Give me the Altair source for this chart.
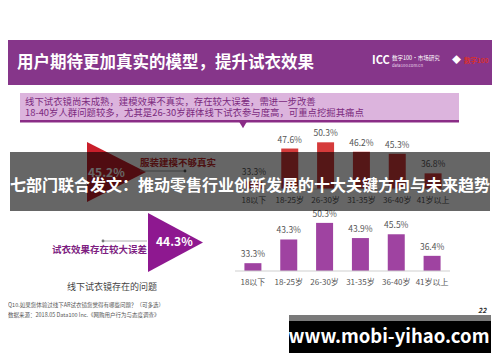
import altair as alt
import pandas as pd

# ---------------- data ----------------
ages = ["18以下", "18-25岁", "26-30岁", "31-35岁", "36-40岁", "41岁以上"]
top_vals = [33.3, 47.6, 50.3, 46.2, 45.3, 36.8]      # 服装建模不够真实
bottom_vals = [33.3, 43.3, 50.3, 43.9, 45.5, 36.4]   # 试衣效果存在较大误差
top_total = "45.2%"
bottom_total = "44.3%"

title = "用户期待更加真实的模型，提升试衣效果"
note1 = "线下试衣镜尚未成熟，建模效果不真实，存在较大误差，需进一步改善"
note2 = "18-40岁人群问题较多，尤其是26-30岁群体线下试衣参与度高，可重点挖掘其痛点"
banner = "七部门联合发文：推动零售行业创新发展的十大关键方向与未来趋势"
FONT = "Noto Sans CJK SC"

df_top = pd.DataFrame({"age": ages, "v": top_vals})
df_top["label"] = [f"{v:.1f}%" for v in top_vals]
df_bot = pd.DataFrame({"age": ages, "v": bottom_vals})
df_bot["label"] = [f"{v:.1f}%" for v in bottom_vals]
dummy = pd.DataFrame({"a": [0]})

OFF = 8
def X(x): return x - OFF
def Y(y): return y - OFF

def rect(x1, y1, x2, y2, color, opacity=1.0):
    return alt.Chart(dummy).mark_rect(color=color, opacity=opacity).encode(
        x=alt.value(X(x1)), x2=alt.value(X(x2)), y=alt.value(Y(y1)), y2=alt.value(Y(y2)))

def txt(s, x, y, size, color, weight="normal", align="left", style="normal"):
    return alt.Chart(dummy).mark_text(
        text=s, font=FONT, fontSize=size, color=color, fontWeight=weight,
        align=align, baseline="middle", fontStyle=style).encode(
        x=alt.value(X(x)), y=alt.value(Y(y)))

def line(x1, y1, x2, y2, color, width=1.0):
    return alt.Chart(dummy).mark_rule(color=color, strokeWidth=width).encode(
        x=alt.value(X(x1)), x2=alt.value(X(x2)), y=alt.value(Y(y1)), y2=alt.value(Y(y2)))

def dot(x, y, color, size=10):
    return alt.Chart(dummy).mark_point(filled=True, color=color, size=size, opacity=1).encode(
        x=alt.value(X(x)), y=alt.value(Y(y)))

def tri(cx, cy, w, h, color):
    hh = h / w
    return alt.Chart(dummy).mark_point(
        shape=f"M-1,-{hh:.3f}L1,0L-1,{hh:.3f}Z", filled=True, color=color,
        size=w * w, opacity=1, strokeWidth=0).encode(
        x=alt.value(X(cx)), y=alt.value(Y(cy)))

def bars(df, x0, x1, base, k, color):
    xs = alt.X("age:N", sort=ages, axis=None,
               scale=alt.Scale(domain=ages, range=[X(x0), X(x1)], paddingInner=0, paddingOuter=0))
    ys = alt.Y("v:Q", axis=None,
               scale=alt.Scale(domain=[30, 52], range=[Y(base), Y(base - k * 22)], zero=False, nice=False))
    b = alt.Chart(df).mark_bar(color=color, size=17).encode(x=xs, y=ys, y2=alt.datum(30))
    t = alt.Chart(df).mark_text(font=FONT, fontSize=8.5, color="#555", baseline="bottom", dy=-4).encode(
        x=xs, y=ys, text="label:N")
    c = alt.Chart(df).mark_text(font=FONT, fontSize=8, color="#555", baseline="middle").encode(
        x=xs, y=alt.value(Y(base + 12)), text="age:N")
    ax = line(x0, base, x1, base, "#cfcfcf", 1)
    return [b, t, c, ax]

layers = []
# header
layers.append(rect(0, 40, 500, 85, "#86368a"))
layers.append(txt(title, 17, 63, 16.5, "white", "bold"))
layers.append(txt("ICC", 372, 61, 11, "white", "bold"))
layers.append(txt("数字100·市场研究", 392, 57.5, 5.5, "white"))
layers.append(txt("data100.com.cn", 392, 65.5, 4.2, "#e9d5ea"))
layers.append(txt("◆", 452, 60, 9, "white"))
layers.append(txt("数字100", 464, 61, 6.5, "#d9302c", "bold"))
# note box
layers.append(rect(20, 93, 459, 121, "#dcb4dd"))
layers.append(rect(20, 120, 459, 122.5, "#8a2c86"))
layers.append(alt.Chart(dummy).mark_point(shape="triangle-down", filled=True, color="#8a2c86",
                                          size=60, opacity=1).encode(x=alt.value(X(243)), y=alt.value(Y(125))))
layers.append(txt(note1, 25, 102, 9.4, "#7b2a7e"))
layers.append(txt(note2, 25, 113, 9.4, "#7b2a7e"))

# top panel
layers.append(tri(116.5, 172, 59, 60, "#c91f2b"))
layers.append(txt(top_total, 88, 173, 12, "#ffffff", "bold"))
layers.append(txt("服装建模不够真实", 140, 163, 9.5, "#c0282a", "bold"))
layers.append(line(140, 171, 185, 171, "#888", 0.8))
layers.append(dot(185, 171, "#555", 8))
layers += bars(df_top, 236, 451, 189, 2.3, "#d53b3b")

# bottom panel
layers.append(tri(175.5, 242.5, 55, 59, "#8e1890"))
layers.append(txt(bottom_total, 156, 242, 12, "#ffffff", "bold"))
layers.append(txt("试衣效果存在较大误差", 52, 250, 9.5, "#7e1f82", "bold"))
layers.append(line(103, 241, 147, 241, "#999", 0.8))
layers.append(dot(103, 241, "#777", 8))
layers.append(txt("线下试衣镜存在的问题", 67, 287, 9, "#444"))
layers += bars(df_bot, 235, 450, 271, 2.37, "#9f43a1")

# footer
layers.append(txt("Q10.如果您体验过线下AR试衣镜您觉得有哪些问题？（可多选）", 8, 305, 5.5, "#555"))
layers.append(txt("数据来源：2018.05 Data100 Inc.《网购用户行为与态度调查》", 8, 315, 5.5, "#555"))
layers.append(txt("22", 478, 311, 7, "#333", "bold", style="italic"))

# overlay banner
layers.append(rect(10, 152, 490, 211, "#000000", 0.6))
layers.append(txt(banner, 250, 186, 16, "white", "bold", align="center"))

# watermark box
layers.append(rect(289, 315, 491, 321, "#7a7a7a"))
layers.append(rect(289, 321, 491, 353, "#000000"))
layers.append(txt("www.mobi-yihao.com", 389, 337, 18.5, "white", "bold", align="center"))

chart = alt.layer(*layers).resolve_scale(x="independent", y="independent").properties(
    width=484, height=346, padding=0, autosize="none", background="white"
).configure_view(stroke=None)

chart.save("out.html", embed_options={"renderer": "svg", "actions": False})
